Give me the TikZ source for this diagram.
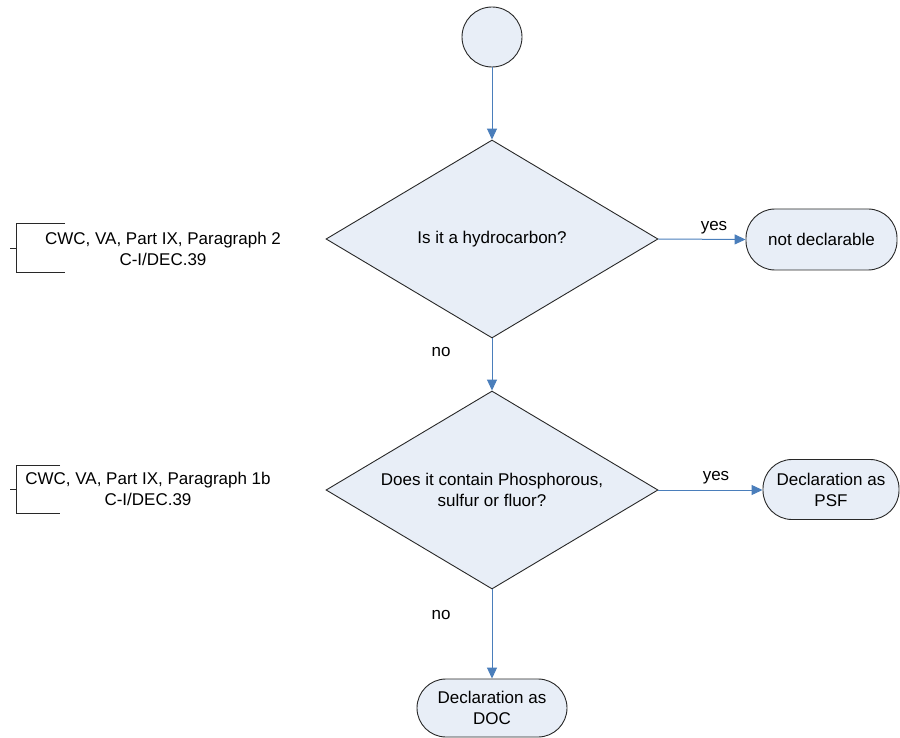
\documentclass[tikz,border=0pt]{standalone}
\usepackage{fontspec}
\setmainfont{Liberation Sans}
\usetikzlibrary{shapes.geometric,arrows.meta}
\definecolor{shapefill}{RGB}{232,238,247}
\definecolor{shapeline}{RGB}{40,40,40}
\definecolor{arrowblue}{RGB}{74,126,187}
\tikzset{
  every node/.style={font=\fontsize{17}{21}\selectfont},
  startcircle/.style={circle,draw=shapeline,fill=shapefill,line width=0.9pt,minimum size=60pt,inner sep=0pt},
  decision/.style={diamond,draw=shapeline,fill=shapefill,line width=0.9pt,aspect=1.68,minimum width=332pt,minimum height=198pt,inner sep=0pt,align=center},
  terminal/.style={rectangle,rounded corners=29pt,draw=shapeline,fill=shapefill,line width=0.9pt,inner sep=0pt,align=center},
  flow/.style={draw=arrowblue,line width=1pt,-{Triangle[length=11pt,width=10pt]}},
  lbl/.style={inner sep=0pt},
  annot/.style={draw=shapeline,line width=0.8pt},
  annottext/.style={align=center,inner sep=0pt}
}
\begin{document}
\begin{tikzpicture}[x=1pt,y=-1pt]
\useasboundingbox (0,0) rectangle (900,738);
% nodes
\node[startcircle] (start) at (492,37) {};
\node[decision] (d1) at (492,239) {Is it a hydrocarbon?};
\node[terminal,minimum width=151pt,minimum height=61pt] (nd) at (821.5,239.5) {not declarable};
\node[decision] (d2) at (492,490) {Does it contain Phosphorous,\\sulfur or fluor?};
\node[terminal,minimum width=136pt,minimum height=60pt] (psf) at (831,489.5) {Declaration as\\PSF};
\node[terminal,minimum width=150pt,minimum height=58pt] (doc) at (492,708) {Declaration as\\DOC};
% connectors
\draw[flow] (start) -- (d1.north);
\draw[flow] (d1.east) -- (nd.west);
\draw[flow] (d1.south) -- (d2.north);
\draw[flow] (d2.east) -- (psf.west |- d2.east);
\draw[flow] (d2.south) -- (doc.north);
% labels
\node[lbl] (yes1) at (714,228) {yes};
\node[lbl] (no1) at (441,352) {no};
\node[lbl] (yes2) at (716,478) {yes};
\node[lbl] (no2) at (441,615) {no};
% annotations
\coordinate (a1t) at (65,223);
\coordinate (a1tl) at (16,223);
\coordinate (a1bl) at (16,272);
\coordinate (a1b) at (65,272);
\coordinate (a1m) at (16,248);
\coordinate (a1k) at (10,248);
\draw[annot] (a1t) -- (a1tl) -- (a1bl) -- (a1b);
\draw[annot] (a1m) -- (a1k);
\node[annottext] (t1) at (163,249) {CWC, VA, Part IX, Paragraph 2\\C-I/DEC.39};
\coordinate (a2t) at (60,465);
\coordinate (a2tl) at (16,465);
\coordinate (a2bl) at (16,513);
\coordinate (a2b) at (60,513);
\coordinate (a2m) at (16,489);
\coordinate (a2k) at (10,489);
\draw[annot] (a2t) -- (a2tl) -- (a2bl) -- (a2b);
\draw[annot] (a2m) -- (a2k);
\node[annottext] (t2) at (148,488.5) {CWC, VA, Part IX, Paragraph 1b\\C-I/DEC.39};
\end{tikzpicture}
\end{document}
